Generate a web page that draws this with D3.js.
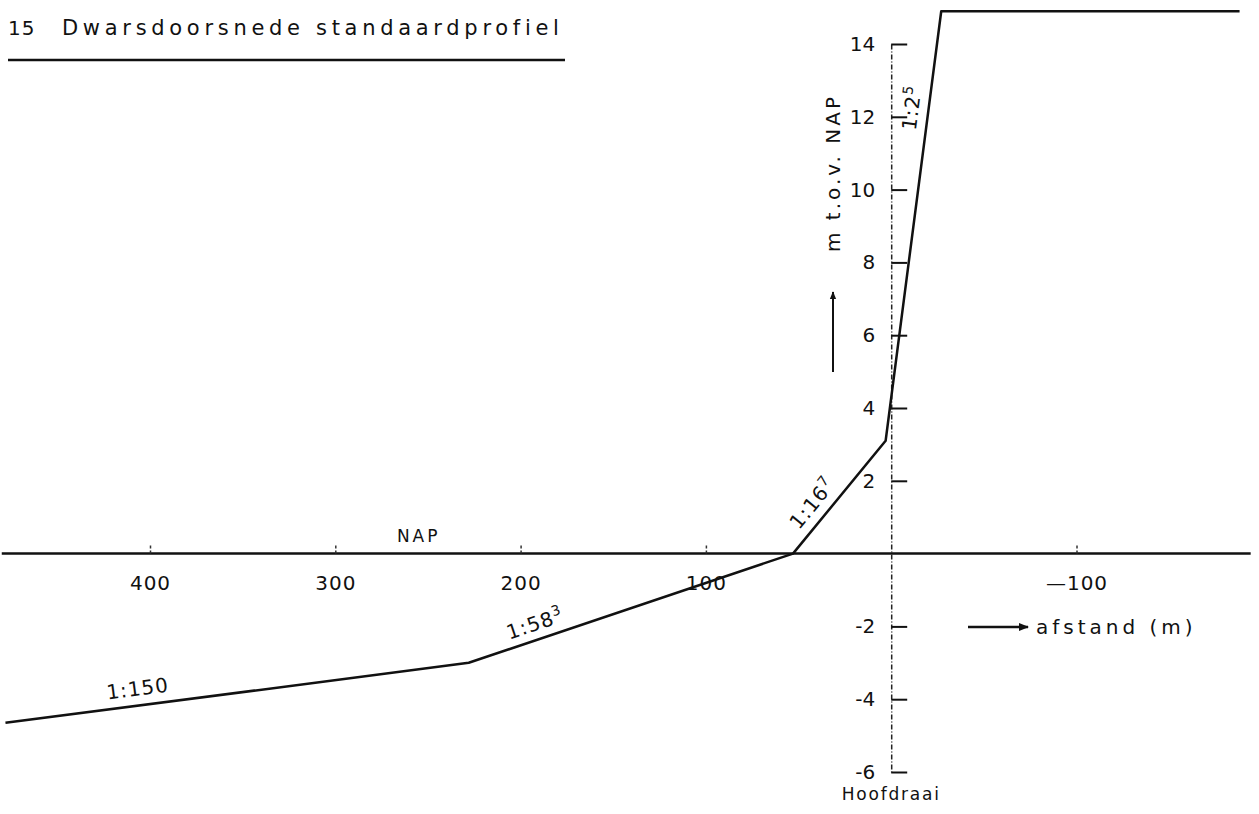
<!DOCTYPE html>
<html>
<head>
<meta charset="utf-8">
<script src="https://cdn.jsdelivr.net/npm/d3@7"></script>
<style>
  body { margin: 0; background: #fff; }
  text { font-family: "DejaVu Sans", sans-serif; fill: #111; }
</style>
</head>
<body>
<svg id="chart" width="1259" height="814"></svg>
<script>
// profile: distance from Hoofdraai (m, positive = seaward) and height (m t.o.v. NAP)
var profileDist = [478, 228, 53, 3, -27, -188];
var profileHeight = [-4.65, -3.0, 0, 3.1, 14.9, 14.9];

var xTicks = [400, 300, 200, 100, -100];
var yTicks = [14, 12, 10, 8, 6, 4, 2, -2, -4, -6];

// slope labels: text, superscript, segment index it belongs to
var slopeText = ["1:150", "1:58", "1:16", "1:2"];
var slopeSup = ["", "3", "7", "5"];
var slopeSeg = [0, 1, 2, 3];

var svg = d3.select("#chart");

var x = d3.scaleLinear().domain([400, -100]).range([150, 1076.5]);
var y = d3.scaleLinear().domain([14, -6]).range([44, 772]);

// title
svg.append("text").attr("x", 8).attr("y", 35)
    .style("font-size", "20px").style("letter-spacing", "1px")
    .text("15");
svg.append("text").attr("x", 62).attr("y", 35)
    .style("font-size", "21px").style("letter-spacing", "4.7px")
    .text("Dwarsdoorsnede standaardprofiel");
svg.append("line").attr("x1", 8).attr("x2", 565).attr("y1", 60).attr("y2", 60)
    .attr("stroke", "#111").attr("stroke-width", 2.5);

// NAP line
svg.append("line")
    .attr("x1", x(480)).attr("x2", x(-194))
    .attr("y1", y(0)).attr("y2", y(0))
    .attr("stroke", "#111").attr("stroke-width", 2.5);

// x axis: ticks up, labels below
var xAxis = svg.append("g")
    .attr("transform", "translate(0," + y(0) + ")")
    .call(d3.axisBottom(x).tickValues(xTicks).tickSizeInner(-10).tickSizeOuter(0).tickPadding(22)
        .tickFormat(function(d) { return d < 0 ? "\u2014" + Math.abs(d) : d; }));
xAxis.select(".domain").remove();
xAxis.selectAll(".tick line").attr("stroke", "#333").attr("stroke-width", 1.5).attr("stroke-dasharray", "3,2");
xAxis.selectAll(".tick text")
    .style("font-family", "DejaVu Sans, sans-serif").style("font-size", "20px")
    .style("letter-spacing", "1px").attr("fill", "#111");

// y axis on Hoofdraai: ticks to the right, labels to the left
var yAxis = svg.append("g")
    .attr("transform", "translate(" + x(0) + ",0)")
    .call(d3.axisLeft(y).tickValues(yTicks).tickSizeInner(-16).tickSizeOuter(0).tickPadding(16)
        .tickFormat(function(d) { return d < 0 ? "-" + Math.abs(d) : d; }));
yAxis.select(".domain").attr("stroke", "#222").attr("stroke-width", 1.5).attr("stroke-dasharray", "5,2,1,2");
yAxis.selectAll(".tick line").attr("stroke", "#111").attr("stroke-width", 2);
yAxis.selectAll(".tick text")
    .style("font-family", "DejaVu Sans, sans-serif").style("font-size", "20px")
    .attr("fill", "#111");

// profile
var pts = profileDist.map(function(d, i) { return [x(d), y(profileHeight[i])]; });
svg.append("path")
    .attr("d", d3.line()(pts))
    .attr("fill", "none").attr("stroke", "#111").attr("stroke-width", 2.5)
    .attr("stroke-linejoin", "round");

// slope labels along segments: [fraction along segment, offset above line]
var slopeOffset = [[0.29, 14], [0.22, 13], [0.35, 14], [0.77, 14]];
slopeText.forEach(function(t, i) {
    var s = slopeSeg[i];
    var a = pts[s], b = pts[s + 1];
    var f = slopeOffset[i][0];
    var px = a[0] + (b[0] - a[0]) * f;
    var py = a[1] + (b[1] - a[1]) * f;
    var ang = Math.atan2(b[1] - a[1], b[0] - a[0]) * 180 / Math.PI;
    var txt = svg.append("text")
        .attr("transform", "translate(" + px + "," + py + ") rotate(" + ang + ") translate(0," + (-slopeOffset[i][1] + 4) + ")")
        .attr("text-anchor", "middle")
        .style("font-size", "20px").style("letter-spacing", "1px");
    txt.append("tspan").text(t);
    if (slopeSup[i]) {
        txt.append("tspan").attr("dy", -8).style("font-size", "14px").text(slopeSup[i]);
    }
});

// NAP label
svg.append("text").attr("x", x(255)).attr("y", y(0) - 12)
    .attr("text-anchor", "middle").style("font-size", "17px").style("letter-spacing", "3px")
    .text("NAP");

// Hoofdraai label
svg.append("text").attr("x", x(0)).attr("y", 800)
    .attr("text-anchor", "middle").style("font-size", "17px").style("letter-spacing", "1.8px")
    .text("Hoofdraai");

// arrow marker
svg.append("defs").append("marker")
    .attr("id", "arr").attr("viewBox", "0 0 10 10").attr("refX", 9).attr("refY", 5)
    .attr("markerWidth", 4).attr("markerHeight", 4).attr("orient", "auto")
    .append("path").attr("d", "M0,1L10,5L0,9z").attr("fill", "#111");

// afstand label
svg.append("line").attr("x1", 968).attr("x2", 1028).attr("y1", 627).attr("y2", 627)
    .attr("stroke", "#111").attr("stroke-width", 2.5).attr("marker-end", "url(#arr)");
svg.append("text").attr("x", 1036).attr("y", 634)
    .style("font-size", "20px").style("letter-spacing", "4px")
    .text("afstand (m)");

// vertical axis label
svg.append("line").attr("x1", 833).attr("x2", 833).attr("y1", 372).attr("y2", 292)
    .attr("stroke", "#111").attr("stroke-width", 2).attr("marker-end", "url(#arr)");
svg.append("text")
    .attr("transform", "translate(840,173) rotate(-90)")
    .attr("text-anchor", "middle")
    .style("font-size", "20px").style("letter-spacing", "3px")
    .text("m t.o.v. NAP");
</script>
</body>
</html>
